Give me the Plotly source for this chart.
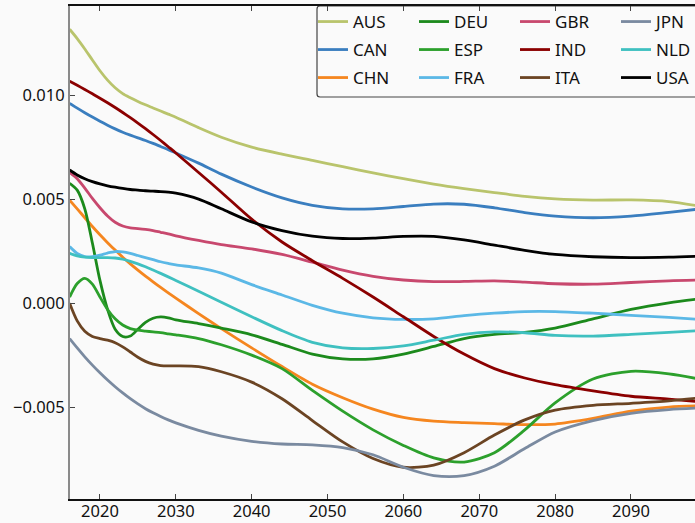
import plotly.graph_objects as go

years = [2016, 2017, 2018, 2019, 2020, 2021, 2022, 2023, 2024, 2025, 2026, 2027, 2028, 2029, 2030,
         2033, 2036, 2040, 2044, 2048, 2052, 2056, 2060, 2064, 2068, 2072, 2076, 2080, 2085, 2090, 2095, 2100]

AUS = [0.01320, 0.01275, 0.01225, 0.01172, 0.01120, 0.01075, 0.01038, 0.01010, 0.00990, 0.00972, 0.00956, 0.00941, 0.00926, 0.00911, 0.00896,
       0.00846, 0.00800, 0.00752, 0.00718, 0.00688, 0.00658, 0.00628, 0.00600, 0.00574, 0.00552, 0.00533, 0.00515, 0.00503, 0.00497, 0.00498, 0.00490, 0.00462]
CAN = [0.00963, 0.00940, 0.00918, 0.00897, 0.00877, 0.00858, 0.00840, 0.00824, 0.00810, 0.00797, 0.00784, 0.00770, 0.00755, 0.00740, 0.00724,
       0.00675, 0.00622, 0.00560, 0.00508, 0.00472, 0.00455, 0.00455, 0.00466, 0.00478, 0.00477, 0.00460, 0.00437, 0.00420, 0.00412, 0.00420, 0.00438, 0.00458]
CHN = [0.00497, 0.00455, 0.00412, 0.00370, 0.00330, 0.00292, 0.00256, 0.00222, 0.00190, 0.00160, 0.00131, 0.00103, 0.00076, 0.00050, 0.00025,
       -0.00050, -0.00122, -0.00215, -0.00305, -0.00390, -0.00455, -0.00510, -0.00550, -0.00568, -0.00575, -0.00580, -0.00585, -0.00582, -0.00555, -0.00520, -0.00500, -0.00493]
DEU = [0.00578, 0.00545, 0.00455, 0.00290, 0.00110, -0.00030, -0.00125, -0.00160, -0.00158, -0.00125, -0.00092, -0.00072, -0.00066, -0.00070, -0.00080,
       -0.00098, -0.00120, -0.00152, -0.00198, -0.00245, -0.00268, -0.00268, -0.00245, -0.00208, -0.00170, -0.00150, -0.00140, -0.00120, -0.00075, -0.00030, 0.00002, 0.00025]
ESP = [0.00030, 0.00095, 0.00120, 0.00092, 0.00030, -0.00030, -0.00075, -0.00105, -0.00122, -0.00130, -0.00134, -0.00138, -0.00142, -0.00147, -0.00152,
       -0.00170, -0.00200, -0.00250, -0.00315, -0.00420, -0.00520, -0.00610, -0.00685, -0.00745, -0.00765, -0.00720, -0.00610, -0.00480, -0.00365, -0.00328, -0.00340, -0.00372]
FRA = [0.00273, 0.00240, 0.00225, 0.00225, 0.00232, 0.00242, 0.00249, 0.00247, 0.00240, 0.00230, 0.00220, 0.00210, 0.00200, 0.00192, 0.00185,
       0.00170, 0.00145, 0.00090, 0.00040, -0.00010, -0.00048, -0.00070, -0.00078, -0.00075, -0.00060, -0.00048, -0.00040, -0.00040, -0.00048, -0.00058, -0.00068, -0.00080]
GBR = [0.00630, 0.00600, 0.00555, 0.00505, 0.00460, 0.00420, 0.00390, 0.00372, 0.00363, 0.00360, 0.00356, 0.00350, 0.00342, 0.00334, 0.00325,
       0.00303, 0.00283, 0.00262, 0.00235, 0.00198, 0.00160, 0.00130, 0.00112, 0.00104, 0.00105, 0.00108, 0.00102, 0.00094, 0.00092, 0.00100, 0.00108, 0.00112]
IND = [0.01070, 0.01050, 0.01030, 0.01009, 0.00988, 0.00966, 0.00943, 0.00919, 0.00894, 0.00868, 0.00841, 0.00813, 0.00784, 0.00754, 0.00724,
       0.00630, 0.00535, 0.00405, 0.00295, 0.00205, 0.00120, 0.00030, -0.00065, -0.00160, -0.00245, -0.00315, -0.00360, -0.00392, -0.00422, -0.00448, -0.00462, -0.00478]
ITA = [0.00000, -0.00085, -0.00135, -0.00160, -0.00170, -0.00178, -0.00190, -0.00210, -0.00235, -0.00260, -0.00280, -0.00293, -0.00300, -0.00302, -0.00302,
       -0.00305, -0.00330, -0.00380, -0.00460, -0.00565, -0.00668, -0.00748, -0.00790, -0.00780, -0.00720, -0.00635, -0.00562, -0.00515, -0.00492, -0.00482, -0.00470, -0.00452]
JPN = [-0.00170, -0.00215, -0.00258, -0.00298, -0.00335, -0.00370, -0.00402, -0.00432, -0.00460, -0.00485, -0.00508, -0.00528, -0.00546, -0.00562, -0.00576,
       -0.00612, -0.00640, -0.00665, -0.00678, -0.00682, -0.00695, -0.00730, -0.00790, -0.00830, -0.00830, -0.00785, -0.00700, -0.00620, -0.00565, -0.00530, -0.00512, -0.00503]
NLD = [0.00240, 0.00228, 0.00222, 0.00220, 0.00220, 0.00220, 0.00218, 0.00212, 0.00202, 0.00190, 0.00176, 0.00160, 0.00144, 0.00127, 0.00110,
       0.00058, 0.00005, -0.00065, -0.00132, -0.00188, -0.00215, -0.00218, -0.00205, -0.00178, -0.00150, -0.00138, -0.00142, -0.00155, -0.00158, -0.00150, -0.00140, -0.00130]
USA = [0.00642, 0.00618, 0.00600, 0.00586, 0.00575, 0.00566, 0.00559, 0.00553, 0.00548, 0.00545, 0.00542, 0.00540, 0.00538, 0.00535, 0.00530,
       0.00502, 0.00455, 0.00392, 0.00350, 0.00323, 0.00312, 0.00314, 0.00322, 0.00322, 0.00305, 0.00280, 0.00255, 0.00235, 0.00224, 0.00220, 0.00222, 0.00228]

countries = ["AUS", "CAN", "CHN", "DEU", "ESP", "FRA", "GBR", "IND", "ITA", "JPN", "NLD", "USA"]
series = [AUS, CAN, CHN, DEU, ESP, FRA, GBR, IND, ITA, JPN, NLD, USA]
colors = ["#b9c46c", "#3a7ebf", "#f5861f", "#1c8a1c", "#2ca02c", "#5bb8e6",
          "#c8486e", "#8b0000", "#6b4423", "#7a8aa0", "#3fc0c0", "#000000"]
legend_row = ["legend", "legend2", "legend3"]

BG = "#fafafa"
W, H = 695, 523
ML, MT, MB, MR = 70, 6, 24, 0
PW, PH = W - ML - MR, H - MT - MB

def px_x(p):
    return (p - ML) / PW

def px_y(p):
    return (H - MB - p) / PH

fig = go.Figure()
for i, (name, vals, col) in enumerate(zip(countries, series, colors)):
    fig.add_trace(go.Scatter(
        x=years, y=vals, name=name, mode="lines",
        line=dict(color=col, width=2.8, shape="spline", smoothing=0.8),
        legend=legend_row[i % 3],
    ))

font = dict(family="Noto Sans, DejaVu Sans, sans-serif", size=17, color="#111")
tickfont = dict(family="Noto Sans, DejaVu Sans, sans-serif", size=16.5, color="#111")
leg_common = dict(orientation="h", xanchor="left", yanchor="middle",
                  bgcolor="rgba(0,0,0,0)", borderwidth=0, entrywidth=56,
                  entrywidthmode="pixels", font=font, x=px_x(313))

# legend box
x0, x1 = px_x(317), px_x(720)
y0, y1 = px_y(97), px_y(6)
rx, ry = 3 / PW, 3 / PH
path = (f"M {x0+rx},{y1} L {x1},{y1} L {x1},{y0} L {x0+rx},{y0} "
        f"Q {x0},{y0} {x0},{y0+ry} L {x0},{y1-ry} Q {x0},{y1} {x0+rx},{y1} Z")

fig.update_layout(
    width=W, height=H,
    margin=dict(l=ML, r=MR, t=MT, b=MB, pad=0, autoexpand=False),
    paper_bgcolor=BG, plot_bgcolor=BG,
    font=font,
    showlegend=True,
    legend=dict(**leg_common, y=px_y(22)),
    legend2=dict(**leg_common, y=px_y(50)),
    legend3=dict(**leg_common, y=px_y(78)),
    shapes=[dict(type="path", xref="paper", yref="paper", path=path,
                 line=dict(color="#444", width=1.2), fillcolor=BG, layer="below")],
    xaxis=dict(range=[2016.05, 2098.44], tickvals=[2020, 2030, 2040, 2050, 2060, 2070, 2080, 2090],
               showgrid=False, zeroline=False, showline=True, linecolor="#111", linewidth=1.5,
               mirror="ticks", ticks="inside", ticklen=5, tickcolor="#444", tickwidth=1,
               tickfont=tickfont, ticklabelstandoff=-4),
    yaxis=dict(range=[-0.00943, 0.01432], tickvals=[-0.005, 0.0, 0.005, 0.010], tickformat=".3f",
               showgrid=False, zeroline=False, showline=True, linecolor="#8a8a8a", linewidth=2,
               ticks="inside", ticklen=5, tickcolor="#444", tickwidth=1, tickfont=tickfont),
)

fig.write_html("out.html", config={"displayModeBar": False},
               post_script="document.body.style.margin='0';")
